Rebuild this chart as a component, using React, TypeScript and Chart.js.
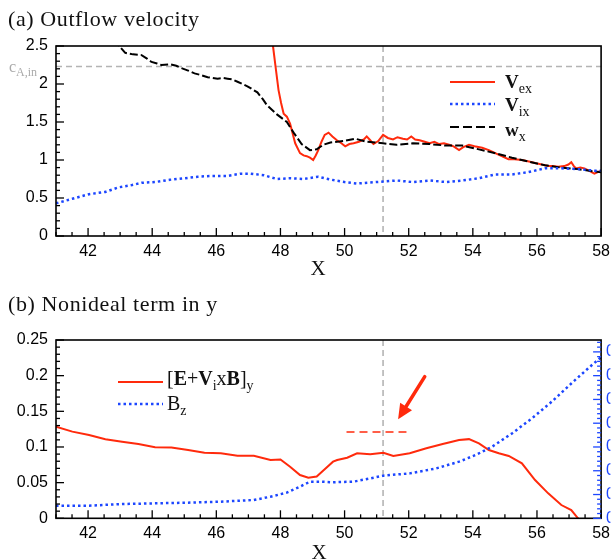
import React, { useEffect, useRef } from "react";
import { Chart, registerables } from "chart.js";
Chart.register(...registerables);

// ---------------- data ----------------
const X_MIN = 41;
const X_MAX = 58;
const xMajorTicks = [42, 44, 46, 48, 50, 52, 54, 56, 58];

const topYTicks = [0, 0.5, 1, 1.5, 2, 2.5];
const bottomYTicks = [0, 0.05, 0.1, 0.15, 0.2, 0.25];
const rightYTicks = [0, 0.1, 0.2, 0.3, 0.4, 0.5, 0.6, 0.7];

const cAin = 2.23;
const markerX = 51.2;

// (a) electron outflow V_ex
const vexX = [47.6, 47.77, 47.85, 47.94, 48.02, 48.1, 48.2, 48.3, 48.46, 48.61, 48.72, 48.82, 48.92, 49.02, 49.1, 49.18, 49.28, 49.38, 49.5, 49.62, 49.76, 49.9, 50.02, 50.15, 50.28, 50.45, 50.6, 50.69, 50.8, 50.9, 51.05, 51.2, 51.35, 51.51, 51.65, 51.82, 51.95, 52.08, 52.2, 52.34, 52.5, 52.65, 52.8, 52.95, 53.1, 53.26, 53.4, 53.57, 53.7, 53.88, 54.05, 54.29, 54.5, 54.7, 54.9, 55.11, 55.3, 55.53, 55.75, 55.94, 56.15, 56.35, 56.5, 56.66, 56.85, 56.98, 57.07, 57.15, 57.22, 57.35, 57.48, 57.62, 57.79, 57.9, 58];
const vexY = [3.0, 2.49, 2.22, 1.92, 1.75, 1.61, 1.57, 1.48, 1.22, 1.09, 1.06, 1.05, 1.03, 1.0, 1.06, 1.13, 1.24, 1.33, 1.36, 1.31, 1.26, 1.22, 1.18, 1.21, 1.22, 1.24, 1.27, 1.31, 1.26, 1.21, 1.25, 1.33, 1.29, 1.27, 1.3, 1.28, 1.27, 1.31, 1.27, 1.26, 1.24, 1.22, 1.24, 1.21, 1.22, 1.2, 1.18, 1.13, 1.17, 1.2, 1.18, 1.16, 1.13, 1.09, 1.05, 1.01, 1.01, 1.0, 0.98, 0.96, 0.94, 0.92, 0.92, 0.91, 0.92, 0.94, 0.97, 0.92, 0.89, 0.9, 0.89, 0.86, 0.82, 0.84, 0.86];

// (a) ion outflow V_ix
const vixX = [41, 41.51, 42.03, 42.54, 42.95, 43.37, 43.67, 44.09, 44.55, 45.01, 45.42, 45.83, 46.35, 46.76, 47.07, 47.48, 47.89, 48.3, 48.72, 49.18, 49.59, 50.0, 50.38, 51.0, 51.62, 52.13, 52.65, 53.16, 53.67, 54.19, 54.7, 55.22, 55.73, 56.25, 56.76, 57.27, 57.79, 58];
const vixY = [0.43, 0.49, 0.55, 0.58, 0.64, 0.67, 0.7, 0.71, 0.74, 0.76, 0.78, 0.79, 0.79, 0.82, 0.82, 0.8, 0.75, 0.76, 0.75, 0.78, 0.74, 0.71, 0.69, 0.71, 0.73, 0.71, 0.73, 0.71, 0.73, 0.76, 0.81, 0.81, 0.84, 0.89, 0.89, 0.88, 0.86, 0.86];

// (a) w_x
const wxX = [42.8, 42.95, 43.16, 43.4, 43.67, 43.85, 43.98, 44.15, 44.29, 44.55, 44.75, 44.91, 45.1, 45.32, 45.5, 45.73, 46.04, 46.2, 46.35, 46.5, 46.66, 46.97, 47.28, 47.45, 47.58, 47.89, 48.2, 48.41, 48.66, 48.92, 49.13, 49.33, 49.56, 49.97, 50.33, 50.69, 51.2, 51.62, 52.13, 52.65, 53.16, 53.67, 54.19, 54.7, 55.22, 55.73, 56.25, 56.76, 57.27, 57.79, 58];
const wxY = [2.58, 2.51, 2.41, 2.39, 2.38, 2.33, 2.29, 2.27, 2.25, 2.26, 2.24, 2.21, 2.18, 2.14, 2.12, 2.09, 2.07, 2.08, 2.07, 2.06, 2.03, 1.97, 1.89, 1.8, 1.72, 1.6, 1.5, 1.36, 1.21, 1.13, 1.14, 1.2, 1.23, 1.25, 1.28, 1.24, 1.22, 1.2, 1.22, 1.21, 1.19, 1.19, 1.14, 1.09, 1.03, 0.98, 0.93, 0.9, 0.88, 0.85, 0.84];

// (b) [E + Vi x B]_y
const eX = [41, 41.51, 42.03, 42.54, 43.06, 43.57, 44.09, 44.6, 45.12, 45.63, 46.14, 46.66, 47.17, 47.69, 48.0, 48.3, 48.61, 48.87, 49.13, 49.38, 49.64, 49.77, 50.08, 50.39, 50.8, 51.21, 51.52, 52.03, 52.55, 53.06, 53.57, 53.88, 54.19, 54.5, 54.81, 55.12, 55.53, 55.94, 56.35, 56.76, 57.07, 57.28, 57.5];
const eY = [0.1285, 0.1215, 0.1168, 0.1108, 0.1074, 0.1042, 0.0995, 0.0993, 0.0958, 0.092, 0.0913, 0.0878, 0.0878, 0.0818, 0.0824, 0.0724, 0.0607, 0.057, 0.0585, 0.0687, 0.0794, 0.0818, 0.085, 0.0911, 0.0897, 0.092, 0.0874, 0.0911, 0.0981, 0.1042, 0.1098, 0.111, 0.1051, 0.0958, 0.0913, 0.0874, 0.0771, 0.0537, 0.035, 0.0186, 0.0116, 0.0, -0.01];

// (b) B_z
const bzX = [41, 42.03, 43.06, 44.09, 45.12, 46.14, 47.17, 47.69, 48.2, 48.61, 48.92, 49.23, 49.64, 50.28, 50.8, 51.21, 52.03, 52.86, 53.57, 54.09, 54.6, 55.22, 55.84, 56.46, 57.07, 57.59, 58];
const bzY = [0.0177, 0.0177, 0.02, 0.021, 0.0219, 0.0233, 0.0257, 0.0303, 0.036, 0.0443, 0.0514, 0.0514, 0.0505, 0.0514, 0.056, 0.0598, 0.063, 0.07, 0.0794, 0.0888, 0.1004, 0.119, 0.14, 0.1635, 0.189, 0.21, 0.226];

// annotation in (b)
const refLineX = [50.06, 51.93];
const refLineY = 0.121;
const arrowFrom = [52.5, 0.1986];
const arrowTo = [51.67, 0.139];

// ---------------- styles ----------------
const RED = "#ff2a0c";
const BLUE = "#1c46ff";
const GRAY = "#b4b4b4";
const SERIF = '"Liberation Serif", "Times New Roman", serif';
const SANS = '"Liberation Sans", Arial, sans-serif';

const pts = (xs: number[], ys: number[]) => xs.map((x, i) => ({ x, y: ys[i] }));
const fmt = (v: number) => String(+Number(v).toFixed(3));

type Part = { t: string; b?: boolean; sub?: boolean };
function drawRich(ctx: CanvasRenderingContext2D, x: number, y: number, parts: Part[], size: number, color: string, subSize?: number, spacing = 0) {
  let cx = x;
  ctx.save();
  ctx.textAlign = "left";
  ctx.textBaseline = "alphabetic";
  ctx.fillStyle = color;
  (ctx as any).letterSpacing = `${spacing}px`;
  for (const p of parts) {
    const s = p.sub ? subSize ?? Math.round(size * 0.72) : size;
    ctx.font = `${p.b ? "bold " : ""}${s}px ${SERIF}`;
    ctx.fillText(p.t, cx, p.sub ? y + size * 0.26 : y);
    cx += ctx.measureText(p.t).width;
  }
  ctx.restore();
}

function legendLine(ctx: CanvasRenderingContext2D, x0: number, x1: number, y: number, color: string, dash: number[], w: number) {
  ctx.save();
  ctx.strokeStyle = color;
  ctx.lineWidth = w;
  ctx.setLineDash(dash);
  ctx.beginPath();
  ctx.moveTo(x0, y);
  ctx.lineTo(x1, y);
  ctx.stroke();
  ctx.restore();
}

function drawXTicks(ctx: CanvasRenderingContext2D, chart: any) {
  const xs = chart.scales.x;
  const { bottom } = chart.chartArea;
  ctx.save();
  ctx.strokeStyle = "#000";
  ctx.lineWidth = 1.3;
  for (let i = X_MIN * 2; i <= X_MAX * 2; i++) {
    const v = i / 2;
    const px = xs.getPixelForValue(v);
    const major = xMajorTicks.includes(v);
    ctx.beginPath();
    ctx.moveTo(px, bottom);
    ctx.lineTo(px, bottom - (major ? 8 : 4));
    ctx.stroke();
  }
  ctx.restore();
}

function drawYTicks(ctx: CanvasRenderingContext2D, scale: any, n: number, step: number, every: number, edge: number, dir: number, color: string) {
  ctx.save();
  ctx.strokeStyle = color;
  ctx.lineWidth = 1.3;
  for (let i = 0; i <= n; i++) {
    const v = i * step;
    const py = scale.getPixelForValue(v);
    const major = i % every === 0;
    ctx.beginPath();
    ctx.moveTo(edge, py);
    ctx.lineTo(edge + dir * (major ? 8 : 4), py);
    ctx.stroke();
  }
  ctx.restore();
}

function drawBox(ctx: CanvasRenderingContext2D, chart: any) {
  const { left, right, top, bottom } = chart.chartArea;
  ctx.save();
  ctx.strokeStyle = "#000";
  ctx.lineWidth = 1.6;
  ctx.strokeRect(left, top, right - left, bottom - top);
  ctx.restore();
}

function dashedV(ctx: CanvasRenderingContext2D, chart: any, x: number) {
  const { top, bottom } = chart.chartArea;
  const px = chart.scales.x.getPixelForValue(x);
  ctx.save();
  ctx.strokeStyle = GRAY;
  ctx.lineWidth = 1.6;
  ctx.setLineDash([6, 4]);
  ctx.beginPath();
  ctx.moveTo(px, top);
  ctx.lineTo(px, bottom);
  ctx.stroke();
  ctx.restore();
}

const xScale = (extra: number) => ({
  type: "linear",
  min: X_MIN,
  max: X_MAX,
  afterBuildTicks: (s: any) => {
    s.ticks = xMajorTicks.map((value) => ({ value }));
  },
  afterFit: (s: any) => {
    s.height = extra;
  },
  grid: { display: false, drawTicks: false },
  border: { display: false },
  ticks: { color: "#000", font: { family: SANS, size: 16 }, padding: 6, autoSkip: false, maxRotation: 0, callback: (v: any) => fmt(v) },
});

export default function App() {
  const topRef = useRef<HTMLCanvasElement>(null);
  const botRef = useRef<HTMLCanvasElement>(null);

  useEffect(() => {
    const topPlugin = {
      id: "topDecor",
      beforeDatasetsDraw(chart: any) {
        const ctx = chart.ctx;
        const { left, right } = chart.chartArea;
        const py = chart.scales.y.getPixelForValue(cAin);
        ctx.save();
        ctx.strokeStyle = GRAY;
        ctx.lineWidth = 1.6;
        ctx.setLineDash([6, 4]);
        ctx.beginPath();
        ctx.moveTo(left, py);
        ctx.lineTo(right, py);
        ctx.stroke();
        ctx.restore();
        dashedV(ctx, chart, markerX);
      },
      afterDraw(chart: any) {
        const ctx = chart.ctx;
        drawBox(ctx, chart);
        drawXTicks(ctx, chart);
        drawYTicks(ctx, chart.scales.y, 25, 0.1, 5, chart.chartArea.left, 1, "#000");
        // title
        drawRich(ctx, 8, 26, [{ t: "(a) Outflow velocity" }], 22, "#111", undefined, 0.6);
        // c_A,in label
        const py = chart.scales.y.getPixelForValue(cAin);
        drawRich(ctx, 9, py + 5, [{ t: "c" }, { t: "A,in", sub: true }], 16, "#aaaaaa", 12);
        // axis title
        ctx.save();
        ctx.font = `21px ${SERIF}`;
        ctx.fillStyle = "#111";
        ctx.textAlign = "center";
        ctx.fillText("X", 318, 275);
        ctx.restore();
        // legend
        legendLine(ctx, 450, 495, 82, RED, [], 2.2);
        drawRich(ctx, 505, 88, [{ t: "V", b: true }, { t: "ex", sub: true }], 19, "#111", 14);
        legendLine(ctx, 450, 495, 104, BLUE, [2.5, 3], 2.5);
        drawRich(ctx, 505, 111, [{ t: "V", b: true }, { t: "ix", sub: true }], 19, "#111", 14);
        legendLine(ctx, 450, 495, 127, "#000", [9, 4], 2);
        drawRich(ctx, 505, 136, [{ t: "w", b: true }, { t: "x", sub: true }], 19, "#111", 14);
      },
    };

    const botPlugin = {
      id: "botDecor",
      beforeDatasetsDraw(chart: any) {
        dashedV(chart.ctx, chart, markerX);
      },
      afterDraw(chart: any) {
        const ctx = chart.ctx;
        const xs = chart.scales.x;
        const ys = chart.scales.y;
        drawBox(ctx, chart);
        drawXTicks(ctx, chart);
        drawYTicks(ctx, ys, 25, 0.01, 5, chart.chartArea.left, 1, "#000");
        drawYTicks(ctx, chart.scales.y2, 37, 0.02, 5, chart.chartArea.right, -1, BLUE);
        drawRich(ctx, 8, 26, [{ t: "(b) Nonideal term in y" }], 22, "#111", undefined, 0.6);
        ctx.save();
        ctx.font = `21px ${SERIF}`;
        ctx.fillStyle = "#111";
        ctx.textAlign = "center";
        ctx.fillText("X", 319, 274);
        ctx.restore();
        // legend
        legendLine(ctx, 118, 163, 97, RED, [], 2.2);
        drawRich(ctx, 167, 100, [{ t: "[" }, { t: "E", b: true }, { t: "+" }, { t: "V", b: true }, { t: "i", sub: true }, { t: "x" }, { t: "B", b: true }, { t: "]" }, { t: "y", sub: true }], 20, "#111", 14);
        legendLine(ctx, 118, 163, 119, BLUE, [2.5, 3], 2.5);
        drawRich(ctx, 167, 125, [{ t: "B" }, { t: "z", sub: true }], 20, "#111", 14);
        // dashed reference segment
        const y0 = ys.getPixelForValue(refLineY);
        ctx.save();
        ctx.strokeStyle = RED;
        ctx.lineWidth = 1.6;
        ctx.setLineDash([8, 5]);
        ctx.beginPath();
        ctx.moveTo(xs.getPixelForValue(refLineX[0]), y0);
        ctx.lineTo(xs.getPixelForValue(refLineX[1]), y0);
        ctx.stroke();
        ctx.restore();
        // arrow
        const ax0 = xs.getPixelForValue(arrowFrom[0]);
        const ay0 = ys.getPixelForValue(arrowFrom[1]);
        const ax1 = xs.getPixelForValue(arrowTo[0]);
        const ay1 = ys.getPixelForValue(arrowTo[1]);
        const ang = Math.atan2(ay1 - ay0, ax1 - ax0);
        const hl = 15;
        const hw = 7;
        const bx = ax1 - hl * Math.cos(ang);
        const by = ay1 - hl * Math.sin(ang);
        ctx.save();
        ctx.strokeStyle = RED;
        ctx.fillStyle = RED;
        ctx.lineWidth = 3.5;
        ctx.lineCap = "round";
        ctx.beginPath();
        ctx.moveTo(ax0, ay0);
        ctx.lineTo(bx, by);
        ctx.stroke();
        ctx.beginPath();
        ctx.moveTo(ax1, ay1);
        ctx.lineTo(bx + hw * Math.sin(ang), by - hw * Math.cos(ang));
        ctx.lineTo(bx - hw * Math.sin(ang), by + hw * Math.cos(ang));
        ctx.closePath();
        ctx.fill();
        ctx.restore();
      },
    };

    const top = new Chart(topRef.current!, {
      type: "line",
      data: {
        datasets: [
          { data: pts(vixX, vixY), borderColor: BLUE, borderWidth: 2.5, borderDash: [2.5, 3], pointRadius: 0, tension: 0 },
          { data: pts(wxX, wxY), borderColor: "#000", borderWidth: 2, borderDash: [8, 3], pointRadius: 0, tension: 0 },
          { data: pts(vexX, vexY), borderColor: RED, borderWidth: 2, pointRadius: 0, tension: 0 },
        ],
      },
      options: {
        animation: false,
        responsive: false,
        layout: { padding: { top: 46, right: 9.3, left: 0, bottom: 0 } },
        plugins: { legend: { display: false }, tooltip: { enabled: false }, title: { display: false } },
        scales: {
          x: xScale(285 - 236) as any,
          y: {
            type: "linear",
            min: 0,
            max: 2.5,
            afterBuildTicks: (s: any) => {
              s.ticks = topYTicks.map((value) => ({ value }));
            },
            afterFit: (s: any) => {
              s.width = 56;
            },
            grid: { display: false, drawTicks: false },
            border: { display: false },
            ticks: { color: "#000", font: { family: SANS, size: 16 }, padding: 8, callback: (v: any) => fmt(v) },
          },
        },
      },
      plugins: [topPlugin],
    });

    const bot = new Chart(botRef.current!, {
      type: "line",
      data: {
        datasets: [
          { data: pts(bzX, bzY), borderColor: BLUE, borderWidth: 2.5, borderDash: [2.5, 3], pointRadius: 0, tension: 0 },
          { data: pts(eX, eY), borderColor: RED, borderWidth: 2, pointRadius: 0, tension: 0 },
        ],
      },
      options: {
        animation: false,
        responsive: false,
        layout: { padding: { top: 55, right: 0, left: 0, bottom: 0 } },
        plugins: { legend: { display: false }, tooltip: { enabled: false }, title: { display: false } },
        scales: {
          x: xScale(274 - 233.3) as any,
          y: {
            type: "linear",
            min: 0,
            max: 0.25,
            afterBuildTicks: (s: any) => {
              s.ticks = bottomYTicks.map((value) => ({ value }));
            },
            afterFit: (s: any) => {
              s.width = 56;
            },
            grid: { display: false, drawTicks: false },
            border: { display: false },
            ticks: { color: "#000", font: { family: SANS, size: 16 }, padding: 8, callback: (v: any) => fmt(v) },
          },
          y2: {
            type: "linear",
            position: "right",
            min: 0,
            max: 0.75,
            afterBuildTicks: (s: any) => {
              s.ticks = rightYTicks.map((value) => ({ value }));
            },
            afterFit: (s: any) => {
              s.width = 9.3;
            },
            grid: { display: false, drawTicks: false },
            border: { display: false },
            ticks: { color: BLUE, font: { family: SANS, size: 16 }, padding: 5, callback: (v: any) => fmt(v) },
          },
        },
      },
      plugins: [botPlugin],
    });

    return () => {
      top.destroy();
      bot.destroy();
    };
  }, []);

  return (
    <div style={{ position: "absolute", left: 0, top: 0, width: 616, height: 559, overflow: "hidden", background: "#fff" }}>
      <canvas ref={topRef} width={616} height={285} style={{ position: "absolute", left: 0, top: 0 }} />
      <canvas ref={botRef} width={616} height={274} style={{ position: "absolute", left: 0, top: 285 }} />
    </div>
  );
}
